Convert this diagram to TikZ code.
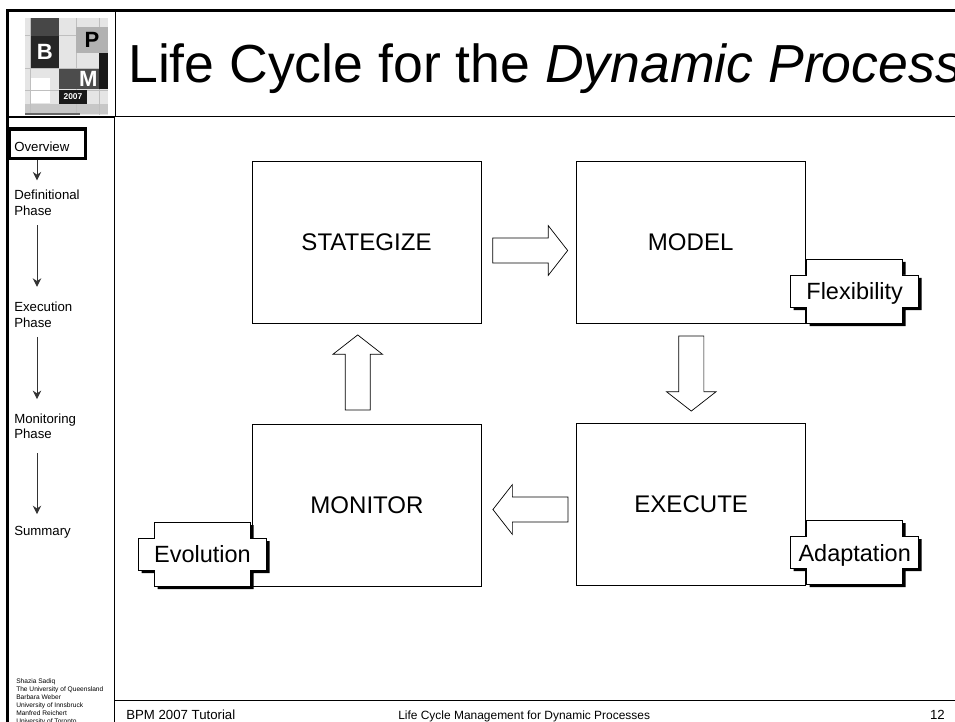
\documentclass[tikz,border=0pt]{standalone}
\usepackage{fontspec}
\setmainfont{Liberation Sans}
\usetikzlibrary{positioning, arrows.meta, shapes.arrows}

\begin{document}
\begin{tikzpicture}[
    % GLOBAL CFG
    x=0.025cm,
    y=-0.025cm,
    >={Stealth[length=6pt,width=6pt]},
    % Styles
    stage/.style={% For the four main boxes
        rectangle,
        draw,
        line width=0.6pt,
        minimum width=5.725cm,
        minimum height=4.05cm,
        font=\fontsize{17.1}{20}\selectfont,
        },
    blockarrow/.style={% For the hollow arrows between the boxes
        single arrow,
        draw,
        anchor=tail,
        line width=0.5pt,
        inner sep=0pt,
        text height=0.61cm,
        text width=0pt,
        minimum height=1.875cm,
        single arrow head extend=0.3075cm,
        single arrow tip angle=104,
        },
    tagtext/.style={% For the labels on the stepped tags
        text depth=0pt,
        font=\fontsize{16.7}{20}\selectfont,
        },
    sideitem/.style={% For the entries of the sidebar
        anchor=north west,
        align=left,
        inner xsep=0pt,
        inner ysep=0.2375cm,
        font=\fontsize{9.4}{11.1}\selectfont,
        },
    sidearrow/.style={% Arrows of the sidebar
        ->,
        line width=0.7pt,
        black!80,
        },
    footer/.style={% For the texts of the footer
        anchor=base west,
        inner sep=0pt,
        font=\fontsize{9.4}{11}\selectfont,
        },
    frame/.style={% For the heavy lines of the slide
        line width=2.2pt,
        },
    thinrule/.style={% For the thin lines of the slide
        line width=0.8pt,
        },
    logotile/.style={% For the squares of the logo
        rectangle,
        inner sep=0pt,
        text=white,
        font=\bfseries\fontsize{15.7}{16}\selectfont,
        },
    tagshape/.pic={% The stepped tag with its shadow
        \fill [black, shift={(3,3)}] (-48,-32) -- (48,-32) -- (48,-16) -- (64,-16) -- (64,16) -- (48,16) -- (48,32) -- (-48,32) -- (-48,16) -- (-64,16) -- (-64,-16) -- (-48,-16) -- cycle;
        \draw [fill=white, line width=0.5pt] (-48,-32) -- (48,-32) -- (48,-16) -- (64,-16) -- (64,16) -- (48,16) -- (48,32) -- (-48,32) -- (-48,16) -- (-64,16) -- (-64,-16) -- (-48,-16) -- cycle;
        },
    ]

\path [use as bounding box, clip] (0,0) rectangle (955,722);

    % Draw the lines of the slide
    \draw [frame] (7.5,722) -- (7.5,10.8) -- (955,10.8);
    \draw [thinrule] (115.7,10) -- (115.7,116.7) -- (955,116.7);
    \draw [thinrule] (7,117) -- (114.7,117);
    \draw [thinrule, line width=1pt] (114.7,117) -- (114.7,722);
    \draw [thinrule] (115,700.7) -- (955,700.7);

    % Draw the logo
    \fill [black!10] (25,18) rectangle (108,115);
    \fill [white] (30,78) rectangle (50,103);
    \fill [black!22] (25,104) rectangle (108,114);
    \draw [black!25, line width=0.5pt] (25,35) -- (108,35) (25,68) -- (108,68) (25,90) -- (108,90) (76,18) -- (76,115) (99,18) -- (99,115) (30,18) -- (30,115);
    \fill [black!60] (25,113) rectangle (80,115);
    \fill [black!72] (30.7,18) rectangle (59,36);
    \node [logotile, fill=black!85, minimum width=28.3*0.025cm, minimum height=32*0.025cm] (logo_b) at (44.8,52) {B};
    \node [logotile, fill=black!30, text=black, minimum width=32*0.025cm, minimum height=26*0.025cm] (logo_p) at (92,40) {P};
    \fill [black!90] (99,53) rectangle (108,89);
    \node [logotile, fill=black!70, minimum width=40*0.025cm, minimum height=20*0.025cm, align=right, text width=37*0.025cm] (logo_m) at (79,79) {M};
    \node [logotile, fill=black!90, font=\bfseries\fontsize{6}{6}\selectfont, minimum width=28*0.025cm, minimum height=14*0.025cm] (logo_year) at (73,97) {2007};

    % Draw the title
    \node [anchor=base west, inner sep=0pt, font=\fontsize{38.1}{40}\selectfont] (title) at (128,82.7) {Life Cycle for the \textit{Dynamic Process}};

    % Draw the sidebar
    \node [draw, line width=2.2pt, inner sep=0pt, minimum width=76*0.025cm, minimum height=29.5*0.025cm] (overview_box) at (47.5,143.75) {};
    \node [sideitem] (overview) at (14,131.8) {Overview};
    \node [sideitem] (definitional) at (14,180.4) {Definitional\\Phase};
    \node [sideitem] (execution) at (14,292.1) {Execution\\Phase};
    \node [sideitem] (monitoring) at (14,403.8) {Monitoring\\Phase};
    \node [sideitem] (summary) at (14,516.1) {Summary};
    \coordinate (side_x) at (37,0);

    \draw [sidearrow] (overview_box.south -| side_x) -- (definitional.north -| side_x);
    \draw [sidearrow, shorten >=3.8pt] (definitional.south -| side_x) -- (execution.north -| side_x);
    \draw [sidearrow, shorten >=3.4pt] (execution.south -| side_x) -- (monitoring.north -| side_x);
    \draw [sidearrow, shorten <=3.4pt, shorten >=1.4pt] (monitoring.south -| side_x) -- (summary.north -| side_x);

    % Draw the names of the authors
    \node [anchor=north west, align=left, inner sep=0pt, font=\fontsize{4.7}{5.7}\selectfont] (authors) at (16,678.5) {Shazia Sadiq\\The University of Queensland\\Barbara Weber\\University of Innsbruck\\Manfred Reichert\\University of Toronto};

    % Draw the footer
    \node [footer] (footer_left) at (126,719) {BPM 2007 Tutorial};
    \node [footer, font=\fontsize{8.5}{11}\selectfont] (footer_mid) at (398,719.3) {Life Cycle Management for Dynamic Processes};
    \node [footer, anchor=base east] (footer_page) at (945,719) {12};

    % Draw the four stages
    \node [stage] (strategize) at (366.5,242) {STATEGIZE};
    \node [stage] (model) at (690.7,242) {MODEL};
    \node [stage] (execute) at (691.2,504.7) {EXECUTE};
    \node [stage] (monitor) at (367,505.3) {MONITOR};

    % Draw the hollow arrows
    \node [blockarrow] (to_model) at (492.3,250.5) {};
    \node [blockarrow, rotate=-90] (to_execute) at (691.3,335.7) {};
    \node [blockarrow, rotate=180] (to_monitor) at (568.3,509.5) {};
    \node [blockarrow, rotate=90] (to_strategize) at (357.7,410.3) {};

    % Draw the tags
    \pic at (854.7,291) {tagshape};
    \pic at (854.7,552) {tagshape};
    \pic at (202.5,554) {tagshape};
    \node [tagtext] (flexibility) at (854.7,291) {Flexibility};
    \node [tagtext] (adaptation) at (854.7,552.9) {Adaptation};
    \node [tagtext] (evolution) at (202.5,554.3) {Evolution};

\end{tikzpicture}
\end{document}
